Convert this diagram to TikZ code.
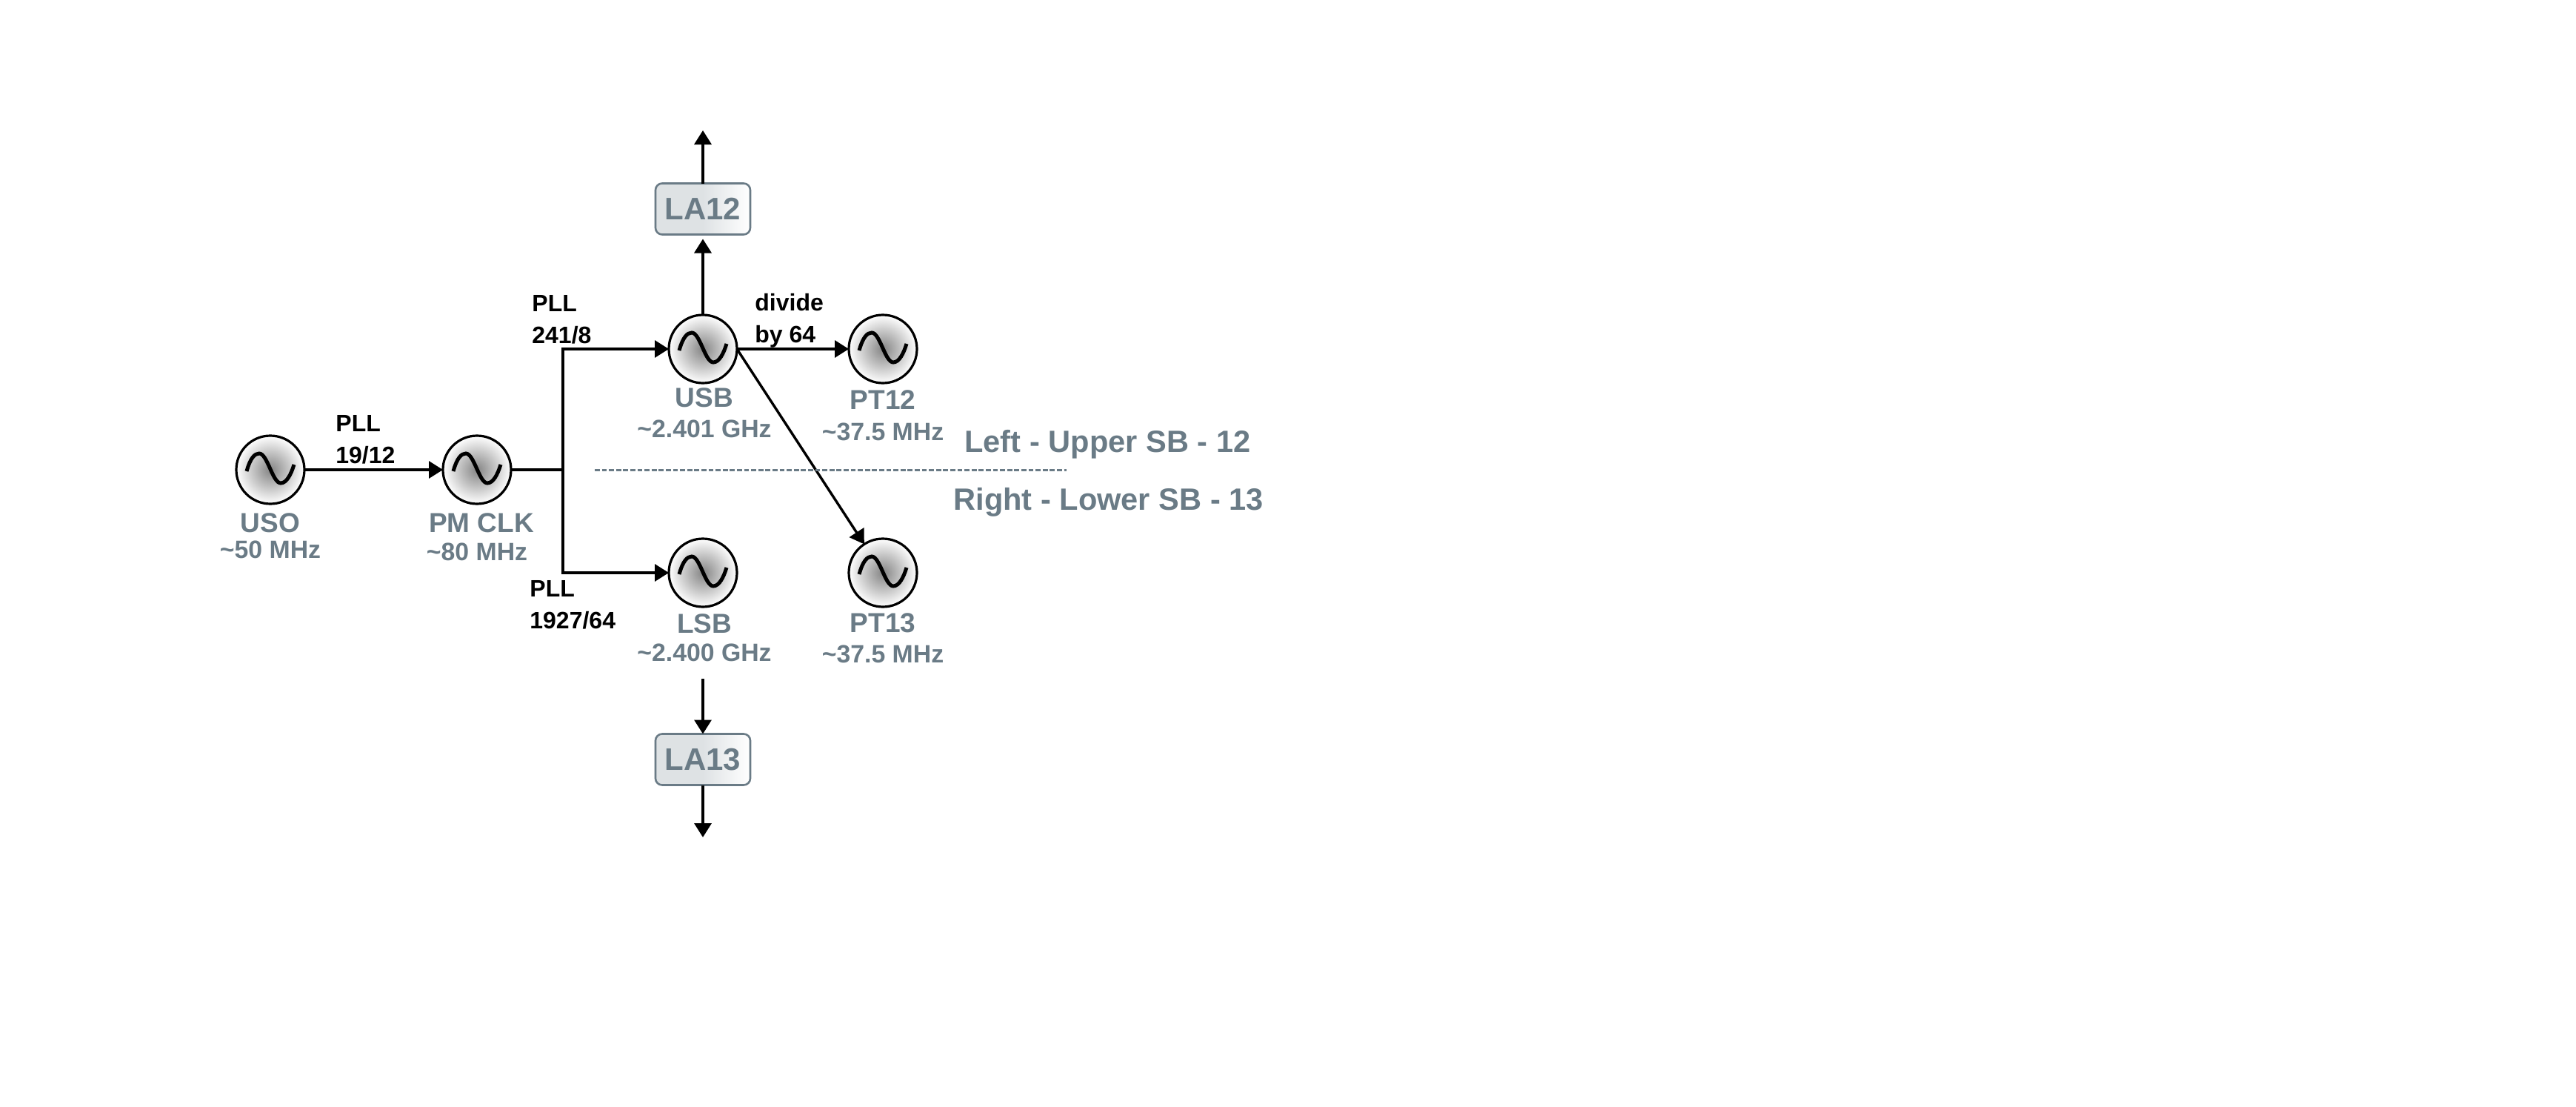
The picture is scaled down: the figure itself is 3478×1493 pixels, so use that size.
\documentclass[tikz,border=0pt]{standalone}
\usepackage{fontspec}
\setmainfont{Liberation Sans}
\usetikzlibrary{arrows.meta}
\definecolor{slate}{HTML}{6A7B86}
\tikzset{
    osc/.style = {circle, draw, line width=1.6pt, minimum size=46pt, inner sep=0pt, outer sep=0pt,
        inner color=black!48, outer color=white,
        path picture={
            \draw[line width=2.5pt, x=0.5pt, y=-0.5pt, shift={(path picture bounding box.center)}]
                (-32,2) .. controls (-27,-16) and (-21,-22) .. (-15,-22)
                .. controls (-4,-22) and (3,18) .. (14,18)
                .. controls (22,18) and (28,6) .. (32,-7);
        }},
    ampbox/.style = {draw=slate, line width=1.3pt, rounded corners=4.5pt, minimum width=64pt, minimum height=34.5pt,
        inner sep=0pt, outer sep=0pt, left color=slate!22, right color=white, middle color=slate!22,
        text=slate, font=\bfseries\fontsize{21}{24}\selectfont},
    oscname/.style = {anchor=base, inner sep=0pt, text=slate, font=\bfseries\fontsize{18.5}{22}\selectfont},
    oscfreq/.style = {anchor=base, inner sep=0pt, text=slate, font=\bfseries\fontsize{16.9}{20}\selectfont},
    ratio/.style = {anchor=west, align=left, inner sep=0pt, font=\bfseries\fontsize{16}{21.5}\selectfont},
    side/.style = {anchor=base west, inner sep=0pt, text=slate, font=\bfseries\fontsize{20.8}{24}\selectfont},
    link/.style = {line width=1.7pt, -{Triangle[length=9.5pt,width=11.5pt]}}
}
\begin{document}
\begin{tikzpicture}[x=0.5pt, y=-0.5pt]
    \useasboundingbox (0,0) rectangle (3478,1493);

    % oscillators
    \node[osc] (uso) at (365,634) {};
    \node[osc] (pmclk) at (644,634) {};
    \node[osc] (usb) at (949,471) {};
    \node[osc] (lsb) at (949,773) {};
    \node[osc] (pt12) at (1192,471) {};
    \node[osc] (pt13) at (1192,773) {};

    % their names
    \node[oscname] (usoName) at (365,718) {USO};
    \node[oscfreq] (usoFreq) at (365,753) {\textasciitilde50 MHz};
    \node[oscname] (pmclkName) at (650,718) {PM CLK};
    \node[oscfreq] (pmclkFreq) at (644,756) {\textasciitilde80 MHz};
    \node[oscname] (usbName) at (951,549) {USB};
    \node[oscfreq] (usbFreq) at (951,590) {\textasciitilde2.401 GHz};
    \node[oscname] (pt12Name) at (1192,552) {PT12};
    \node[oscfreq] (pt12Freq) at (1192,594) {\textasciitilde37.5 MHz};
    \node[oscname] (lsbName) at (951,854) {LSB};
    \node[oscfreq] (lsbFreq) at (951,892) {\textasciitilde2.400 GHz};
    \node[oscname] (pt13Name) at (1192,853) {PT13};
    \node[oscfreq] (pt13Freq) at (1192,894) {\textasciitilde37.5 MHz};

    % amplifiers
    \node[ampbox] (la12) at (949,282) {LA12};
    \node[ampbox] (la13) at (949,1025) {LA13};

    % free ends
    \coordinate (split) at (760,634);
    \coordinate (la12Out) at (949,176);
    \coordinate (lsbOut) at (949,916);
    \coordinate (la13Out) at (949,1130);
    \coordinate (sepLeft) at (803,634);
    \coordinate (sepRight) at (1440,634);

    \draw[link] (uso) -- (pmclk);
    \draw[line width=1.7pt] (pmclk) -- (split);
    \draw[link] (split) |- (usb);
    \draw[link] (split) |- (lsb);
    \draw[link, shorten >=3pt] (usb) -- (la12);
    \draw[link] (la12) -- (la12Out);
    \draw[link] (usb) -- (pt12);
    \draw[link] (usb.east) -- (pt13);
    \draw[link] (lsbOut) -- (la13);
    \draw[link] (la13) -- (la13Out);

    % separator
    \draw[draw=slate, line width=1.5pt, dash pattern=on 3.4pt off 1.4pt] (sepLeft) -- (sepRight);

    % labels
    \node[ratio] (pllUso) at (453,593) {PLL\\19/12};
    \node[ratio] (pllUsb) at (718,431) {PLL\\241/8};
    \node[ratio] (pllLsb) at (715,816) {PLL\\1927/64};
    \node[ratio] (divUsb) at (1019,433) {divide\\by 64};
    \node[side] (upperNote) at (1302,610) {Left - Upper SB - 12};
    \node[side] (lowerNote) at (1287,688) {Right - Lower SB - 13};
\end{tikzpicture}
\end{document}
